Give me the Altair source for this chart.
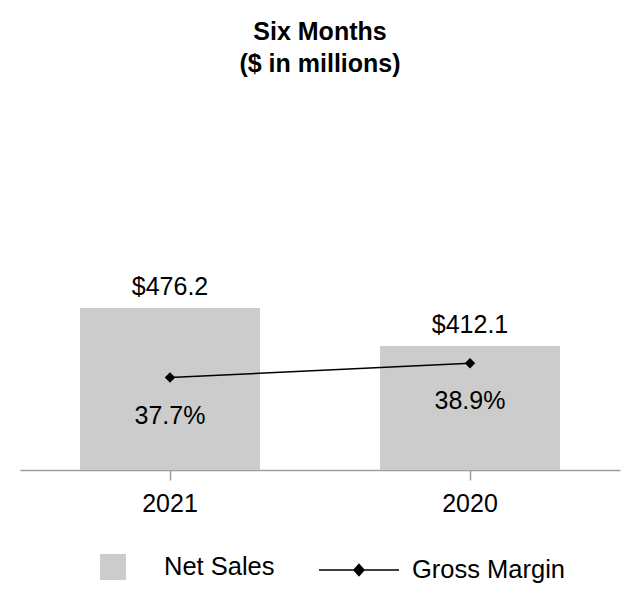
import altair as alt
import pandas as pd

years = ["2021", "2020"]
net_sales = [476.2, 412.1]
gross_margin = [37.7, 38.9]

df = pd.DataFrame({"year": years, "sales": net_sales, "margin": gross_margin})

FONT = "Liberation Sans"
SALES_MIN = 203
SALES_MAX = 708.9

x = alt.X(
    "year:N",
    sort=years,
    scale=alt.Scale(paddingInner=0.4, paddingOuter=0.2),
    axis=alt.Axis(
        title=None,
        labelAngle=0,
        labelFontSize=25,
        labelFont=FONT,
        labelColor="black",
        labelPadding=11,
        domainColor="#9e9e9e",
        domainWidth=1.5,
        tickColor="#9e9e9e",
        tickWidth=1.5,
        tickSize=10,
    ),
)

y_sales = alt.Y("sales:Q", scale=alt.Scale(domain=[SALES_MIN, SALES_MAX], zero=False), axis=None)

bars = alt.Chart(df).transform_calculate(series="'Net Sales'").mark_bar(size=180).encode(
    x=x,
    y=y_sales,
    y2=alt.datum(SALES_MIN),
    fill=alt.Fill(
        "series:N",
        scale=alt.Scale(range=["#cccccc"]),
        legend=alt.Legend(
            title=None,
            orient="none",
            legendX=80,
            legendY=384,
            padding=0,
            symbolType="square",
            symbolSize=676,
            symbolStrokeWidth=0,
            labelFontSize=25.5,
            labelFont=FONT,
            labelColor="black",
            labelOffset=38,
        ),
    ),
)

bar_text = alt.Chart(df).transform_calculate(
    lbl="'$' + format(datum.sales, '.1f')"
).mark_text(baseline="alphabetic", dy=-13, fontSize=25, font=FONT, color="black").encode(
    x=x, y=y_sales, text="lbl:N"
)

y_margin = alt.Y("margin:Q", scale=alt.Scale(domain=[30, 55], zero=False), axis=None)

line = alt.Chart(df).transform_calculate(series="'Gross Margin'").mark_line(strokeWidth=1.5).encode(
    x=x,
    y=y_margin,
    stroke=alt.Stroke(
        "series:N",
        scale=alt.Scale(range=["black"]),
        legend=alt.Legend(
            title=None,
            orient="none",
            legendX=298,
            legendY=359,
            padding=0,
            symbolType="M-1,0L1,0M0,-0.14L0.125,0L0,0.14L-0.125,0Z",
            symbolSize=6400,
            symbolStrokeWidth=1.5,
            symbolStrokeColor="black",
            symbolFillColor="black",
            labelFontSize=25.5,
            labelFont=FONT,
            labelColor="black",
            labelOffset=12,
        ),
    ),
)

points = alt.Chart(df).mark_point(shape="diamond", size=110, filled=True, color="black", opacity=1).encode(
    x=x, y=y_margin
)

pct_text = alt.Chart(df).transform_calculate(
    lbl="format(datum.margin, '.1f') + '%'"
).mark_text(baseline="middle", dy=38, fontSize=25, font=FONT, color="black").encode(
    x=x, y=y_margin, text="lbl:N"
)

chart = alt.layer(
    alt.layer(bars, bar_text),
    alt.layer(line, points, pct_text),
).resolve_scale(y="independent").properties(
    width=600,
    height=300,
    title=alt.TitleParams(
        text=["Six Months", "($ in millions)"],
        fontSize=25,
        font=FONT,
        fontWeight="bold",
        color="black",
        lineHeight=32,
        offset=93,
        anchor="middle",
    ),
    autosize=alt.AutoSizeParams(type="none"),
    padding={"left": 12, "top": 162, "right": 12, "bottom": 130},
).configure_view(stroke=None)

chart.save("out.html", embed_options={"renderer": "svg", "actions": False})
